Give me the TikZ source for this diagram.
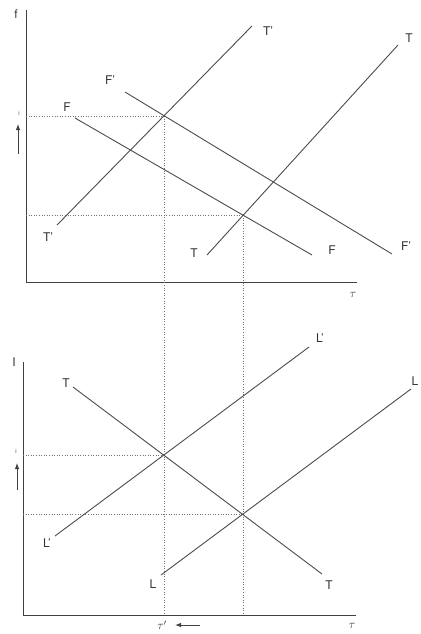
\documentclass[tikz,border=0pt]{standalone}
\usepackage{fontspec}
\setmainfont{TeX Gyre Heros}
\usetikzlibrary{arrows.meta}
\begin{document}
\begin{tikzpicture}[x=1pt,y=-1pt,
  curve/.style={draw=black!70,line width=0.9pt},
  axis/.style={draw=black!75,line width=1pt},
  guide/.style={draw=black!55,line width=0.6pt,dotted},
  lab/.style={text=black!80,font=\fontsize{12}{14}\selectfont,inner sep=0pt},
  tick/.style={text=black!70,font=\fontsize{6}{7}\selectfont,inner sep=0pt},
  arr/.style={draw=black!75,line width=1pt,-{Latex[length=6pt,width=4.5pt]}}]
\useasboundingbox[fill=white] (0,0) rectangle (420,634);
% key points
\coordinate (P1) at (164,116);
\coordinate (P2) at (243,215);
\coordinate (P3) at (164,455);
\coordinate (P4) at (243,514);
% top axes
\coordinate (ya1) at (26,10);
\coordinate (o1) at (26,282);
\coordinate (xa1) at (357,282);
\draw[axis] (ya1) -- (o1) -- (xa1);
% bottom axes
\coordinate (ya2) at (23,362);
\coordinate (o2) at (23,615);
\coordinate (xa2) at (356,615);
\draw[axis] (ya2) -- (o2) -- (xa2);
% guides
\draw[guide] (o1 |- P1) -- (P1);
\draw[guide] (o1 |- P2) -- (P2);
\draw[guide] (o2 |- P3) -- (P3);
\draw[guide] (o2 |- P4) -- (P4);
\draw[guide] (P1) -- (P1 |- o2);
\draw[guide] (P2) -- (P2 |- o2);
% top curves
\coordinate (Tpa) at (57,225);  \coordinate (Tpb) at (252,26);
\coordinate (Fpa) at (125,92);  \coordinate (Fpb) at (392,254);
\coordinate (Ta) at (207,255);  \coordinate (Tb) at (398,45);
\coordinate (Fa) at (75,118);   \coordinate (Fb) at (312,255);
\draw[curve] (Tpa) -- (Tpb);
\draw[curve] (Fpa) -- (Fpb);
\draw[curve] (Ta) -- (Tb);
\draw[curve] (Fa) -- (Fb);
\node[lab] (lTpa) at (48,237) {T'};
\node[lab] (lTpb) at (268,31) {T'};
\node[lab] (lFpa) at (110,80) {F'};
\node[lab] (lFpb) at (406,246) {F'};
\node[lab] (lTa) at (194,253) {T};
\node[lab] (lTb) at (409,38) {T};
\node[lab] (lFa) at (67,107) {F};
\node[lab] (lFb) at (332,250) {F};
% bottom curves
\coordinate (Ba) at (73,387);   \coordinate (Bb) at (322,574);
\coordinate (Lpa) at (55,536);  \coordinate (Lpb) at (309,347);
\coordinate (La) at (161,575);  \coordinate (Lb) at (411,389);
\draw[curve] (Ba) -- (Bb);
\draw[curve] (Lpa) -- (Lpb);
\draw[curve] (La) -- (Lb);
\node[lab] (lBa) at (66,383) {T};
\node[lab] (lBb) at (329,585) {T};
\node[lab] (lLpa) at (47,543) {L'};
\node[lab] (lLpb) at (320,338) {L'};
\node[lab] (lLa) at (153,584) {L};
\node[lab] (lLb) at (415,381) {L};
% axis labels
\node[lab] (lf) at (16,14) {f};
\node[lab] (lI) at (14,362) {I};
\node[lab] (ltau1) at (353,295) {$\tau$};
\node[lab] (ltau2) at (352,626) {$\tau$};
\node[lab] (ltaus) at (162,625) {$\tau'$};
% ticks and arrows
\node[tick] (i1) at (19,113) {i};
\node[tick] (i2) at (16,451) {i};
\coordinate (a1s) at (18,154); \coordinate (a1e) at (18,124);
\coordinate (a2s) at (17,490); \coordinate (a2e) at (17,463);
\coordinate (a3s) at (200,625); \coordinate (a3e) at (175,625);
\draw[arr] (a1s) -- (a1e);
\draw[arr] (a2s) -- (a2e);
\draw[arr] (a3s) -- (a3e);
\end{tikzpicture}
\end{document}
